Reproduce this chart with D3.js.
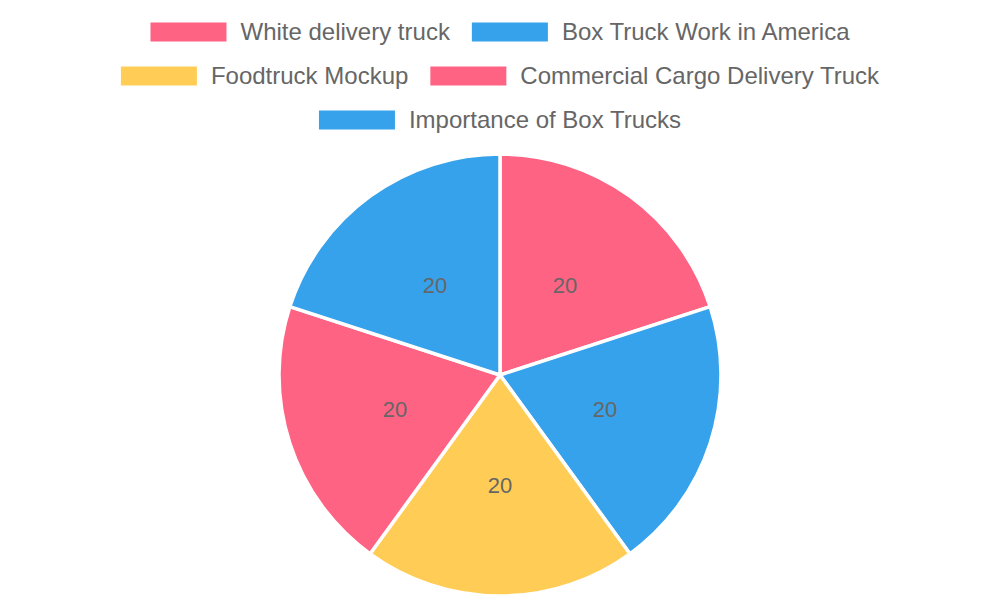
<!DOCTYPE html>
<html>
<head>
<meta charset="utf-8">
<script src="https://cdn.jsdelivr.net/npm/d3@7"></script>
<style>
  body { margin: 0; background: #fff; }
  text { font-family: "Liberation Sans", Arial, Helvetica, sans-serif; }
</style>
</head>
<body>
<div id="chart"></div>
<script>
width = 1000;
height = 600;

labels = ["White delivery truck", "Box Truck Work in America", "Foodtruck Mockup",
          "Commercial Cargo Delivery Truck", "Importance of Box Trucks"];
values = [20, 20, 20, 20, 20];
colors = ["#FF6384", "#36A2EB", "#FFCD56", "#FF6384", "#36A2EB"];

var svg = d3.select("#chart").append("svg")
    .attr("width", width)
    .attr("height", height);

// legend: measure items, then wrap into centred rows
var legend = svg.append("g");
var boxW = 76, boxH = 19, boxGap = 14, itemGap = 22, rowH = 44, maxRow = 960;

var items = labels.map(function(l, i) {
    var t = legend.append("text")
        .attr("font-size", 24)
        .attr("fill", "#666")
        .attr("dominant-baseline", "central")
        .text(l);
    return {label: l, color: colors[i], node: t, w: boxW + boxGap + t.node().getComputedTextLength()};
});

var rows = [[]], rowWidth = 0;
items.forEach(function(it) {
    var add = (rows[rows.length - 1].length ? itemGap : 0) + it.w;
    if (rowWidth + add > maxRow && rows[rows.length - 1].length) {
        rows.push([]);
        rowWidth = 0;
        add = it.w;
    }
    rows[rows.length - 1].push(it);
    rowWidth += add;
});

rows.forEach(function(row, r) {
    var total = d3.sum(row, d => d.w) + itemGap * (row.length - 1);
    var x = width / 2 - total / 2;
    var y = 32 + r * rowH;
    row.forEach(function(it) {
        legend.append("rect")
            .attr("x", x).attr("y", y - boxH / 2)
            .attr("width", boxW).attr("height", boxH)
            .attr("fill", it.color);
        it.node.attr("x", x + boxW + boxGap).attr("y", y - 1);
        x += it.w + itemGap;
    });
});

// pie
var cx = 500, cy = 375, radius = 221;
var pie = d3.pie().sort(null).value(d => d)(values);
var arc = d3.arc().innerRadius(0).outerRadius(radius);

var g = svg.append("g").attr("transform", "translate(" + cx + "," + cy + ")");

g.selectAll("path")
    .data(pie)
    .enter()
    .append("path")
    .attr("d", arc)
    .attr("fill", (d, i) => colors[i])
    .attr("stroke", "#fff")
    .attr("stroke-width", 3.5)
    .attr("stroke-linejoin", "round");

g.selectAll("text.val")
    .data(pie)
    .enter()
    .append("text")
    .attr("class", "val")
    .attr("transform", d => "translate(" + arc.centroid(d) + ")")
    .attr("text-anchor", "middle")
    .attr("dominant-baseline", "central")
    .attr("font-size", 22)
    .attr("fill", "#666")
    .text(d => d.data);
</script>
</body>
</html>
